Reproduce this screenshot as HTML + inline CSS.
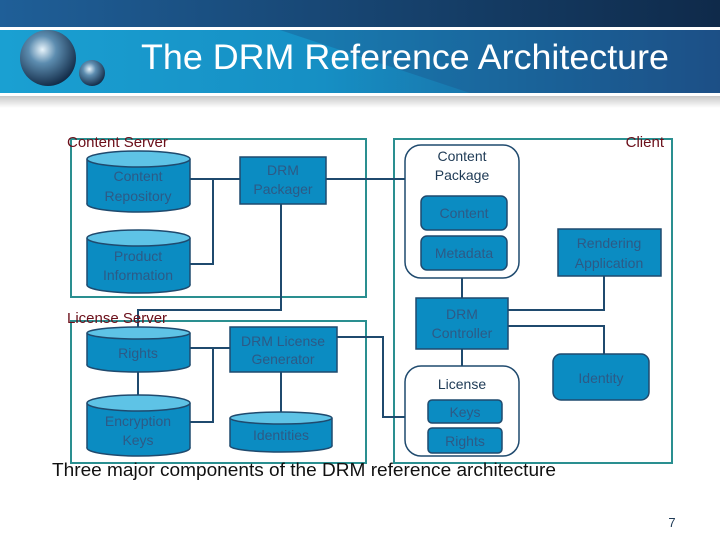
<!DOCTYPE html>
<html><head><meta charset="utf-8"><style>
html,body{margin:0;padding:0;background:#fff;}
svg{display:block;font-family:"Liberation Sans",Arial,sans-serif;}
</style></head><body>
<svg width="720" height="540" viewBox="0 0 720 540" xmlns="http://www.w3.org/2000/svg">
<defs>
<linearGradient id="top" x1="0" y1="0" x2="1" y2="0"><stop offset="0" stop-color="#1f5f98"/><stop offset="1" stop-color="#0f2a4a"/></linearGradient>
<linearGradient id="band" x1="0" y1="0" x2="1" y2="0"><stop offset="0" stop-color="#1aa0d2"/><stop offset="0.45" stop-color="#168fc4"/><stop offset="1" stop-color="#1d4f86"/></linearGradient>
<linearGradient id="sh" x1="0" y1="0" x2="0" y2="1"><stop offset="0" stop-color="#c8c8c8"/><stop offset="1" stop-color="#ffffff"/></linearGradient>
<radialGradient id="ball" cx="0.4" cy="0.35" r="0.7"><stop offset="0" stop-color="#e8f4fb"/><stop offset="0.35" stop-color="#5d8db0"/><stop offset="1" stop-color="#0d2440"/></radialGradient>
</defs>
<rect x="0" y="0" width="720" height="27" fill="url(#top)"/>
<rect x="0" y="27" width="720" height="3" fill="#fff"/>
<rect x="0" y="30" width="720" height="63" fill="url(#band)"/>
<polygon points="280,30 720,30 720,93 470,93" fill="#1d4f86" opacity="0.35"/>
<rect x="0" y="93" width="720" height="3" fill="#fff"/>
<rect x="0" y="96" width="720" height="12" fill="url(#sh)"/>
<circle cx="48" cy="58" r="28" fill="url(#ball)"/>
<circle cx="92" cy="73" r="13" fill="url(#ball)"/>
<text x="141" y="69" font-size="35" fill="#fff" textLength="528" lengthAdjust="spacingAndGlyphs">The DRM Reference Architecture</text>

<g fill="none" stroke="#2a8f90" stroke-width="2">
<rect x="71" y="139" width="295" height="158"/>
<rect x="71" y="321" width="295" height="142"/>
<rect x="394" y="139" width="278" height="324"/>
</g>
<g fill="none" stroke="#1f4a6e" stroke-width="2">
<polyline points="190,179 240,179"/><polyline points="213,179 213,264 190,264"/>
<polyline points="281,204 281,310 138,310 138,327"/>
<polyline points="190,348 230,348"/><polyline points="213,348 213,422 190,422"/>
<polyline points="138,372 138,395"/><polyline points="281,372 281,412"/>
<polyline points="337,337 383,337 383,417 405,417"/>
<polyline points="326,179 405,179"/>
<polyline points="462,278 462,298"/><polyline points="462,349 462,366"/>
<polyline points="508,310 604,310 604,276"/><polyline points="508,326 604,326 604,354"/>
</g>
<g stroke="#1f4a6e" stroke-width="1.5">
<g fill="#0b8cc2"><ellipse cx="138.5" cy="204" rx="51.5" ry="8"/><rect x="87" y="159" width="103" height="45" stroke="none"/><line x1="87" y1="159" x2="87" y2="204"/><line x1="190" y1="159" x2="190" y2="204"/></g>
<ellipse cx="138.5" cy="159" rx="51.5" ry="8" fill="#5ec3e6"/>
<g fill="#0b8cc2"><ellipse cx="138.5" cy="285" rx="51.5" ry="8"/><rect x="87" y="238" width="103" height="47" stroke="none"/><line x1="87" y1="238" x2="87" y2="285"/><line x1="190" y1="238" x2="190" y2="285"/></g>
<ellipse cx="138.5" cy="238" rx="51.5" ry="8" fill="#5ec3e6"/>
<g fill="#0b8cc2"><ellipse cx="138.5" cy="365" rx="51.5" ry="7"/><rect x="87" y="333" width="103" height="32" stroke="none"/><line x1="87" y1="333" x2="87" y2="365"/><line x1="190" y1="333" x2="190" y2="365"/></g>
<ellipse cx="138.5" cy="333" rx="51.5" ry="6" fill="#5ec3e6"/>
<g fill="#0b8cc2"><ellipse cx="138.5" cy="448" rx="51.5" ry="8"/><rect x="87" y="403" width="103" height="45" stroke="none"/><line x1="87" y1="403" x2="87" y2="448"/><line x1="190" y1="403" x2="190" y2="448"/></g>
<ellipse cx="138.5" cy="403" rx="51.5" ry="8" fill="#5ec3e6"/>
<g fill="#0b8cc2"><ellipse cx="281" cy="446" rx="51" ry="6"/><rect x="230" y="418" width="102" height="28" stroke="none"/><line x1="230" y1="418" x2="230" y2="446"/><line x1="332" y1="418" x2="332" y2="446"/></g>
<ellipse cx="281" cy="418" rx="51" ry="6" fill="#5ec3e6"/>
<rect x="240" y="157" width="86" height="47" fill="#0b8cc2"/>
<rect x="230" y="327" width="107" height="45" fill="#0b8cc2"/>
<rect x="405" y="145" width="114" height="133" rx="16" fill="#fff"/>
<rect x="421" y="196" width="86" height="34" rx="6" fill="#0b8cc2"/>
<rect x="421" y="236" width="86" height="34" rx="6" fill="#0b8cc2"/>
<rect x="416" y="298" width="92" height="51" fill="#0b8cc2"/>
<rect x="405" y="366" width="114" height="90" rx="16" fill="#fff"/>
<rect x="428" y="400" width="74" height="23" rx="4" fill="#0b8cc2"/>
<rect x="428" y="428" width="74" height="25" rx="4" fill="#0b8cc2"/>
<rect x="558" y="229" width="103" height="47" fill="#0b8cc2"/>
<rect x="553" y="354" width="96" height="46" rx="8" fill="#0b8cc2"/>
</g>
<g font-size="14" fill="#2d5a86" text-anchor="middle">
<text x="138" y="181">Content</text><text x="138" y="201">Repository</text>
<text x="138" y="261">Product</text><text x="138" y="280">Information</text>
<text x="138" y="358">Rights</text>
<text x="138" y="426">Encryption</text><text x="138" y="445">Keys</text>
<text x="281" y="440">Identities</text>
<text x="283" y="175">DRM</text><text x="283" y="194">Packager</text>
<text x="283" y="346">DRM License</text><text x="283" y="364">Generator</text>
<text x="464" y="218">Content</text><text x="464" y="258">Metadata</text>
<text x="462" y="319">DRM</text><text x="462" y="338">Controller</text>
<text x="465" y="417">Keys</text><text x="465" y="446">Rights</text>
<text x="609" y="248">Rendering</text><text x="609" y="268">Application</text>
<text x="601" y="383">Identity</text>
</g>
<g font-size="14" fill="#1e3a55" text-anchor="middle">
<text x="462" y="161">Content</text><text x="462" y="180">Package</text>
<text x="462" y="389">License</text>
</g>
<g font-size="15" fill="#6b0f1a">
<text x="67" y="147">Content Server</text>
<text x="67" y="323">License Server</text>
<text x="664" y="147" text-anchor="end">Client</text>
</g>
<text x="52" y="476" font-size="18" fill="#111" textLength="504" lengthAdjust="spacingAndGlyphs">Three major components of the DRM reference architecture</text>
<text x="672" y="527" font-size="13" fill="#1e3a55" text-anchor="middle">7</text>
</svg>
</body></html>
